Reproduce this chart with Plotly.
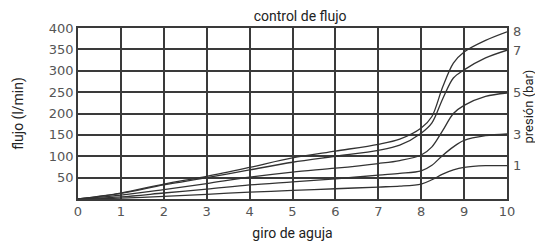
import plotly.graph_objects as go

giro = [0, 1, 2, 3, 4, 5, 6, 7, 7.5, 8, 8.25, 8.5, 8.75, 9, 9.5, 10]
flujo_8bar = [0, 14, 35, 53, 74, 96, 112, 128, 140, 166, 193, 262, 318, 344, 371, 391]
flujo_7bar = [0, 13, 33, 50, 68, 86, 100, 114, 126, 154, 178, 234, 283, 302, 330, 348]
flujo_5bar = [0, 9, 22, 36, 51, 63, 72, 83, 90, 103, 122, 160, 200, 219, 240, 248]
flujo_3bar = [0, 5, 14, 23, 33, 40, 47, 56, 60, 66, 79, 102, 122, 137, 148, 152]
flujo_1bar = [0, 2, 6, 11, 16, 20, 24, 28, 30, 35, 45, 58, 68, 74, 78, 78]
pressure_labels = ["8", "7", "5", "3", "1"]
x_ticks = list(range(0, 11))
y_ticks = [50, 100, 150, 200, 250, 300, 350, 400]

series = [flujo_8bar, flujo_7bar, flujo_5bar, flujo_3bar, flujo_1bar]

narrow = "Liberation Sans Narrow, Arial Narrow, Roboto, sans-serif"
tickfont = dict(family="DejaVu Sans, Verdana, sans-serif", size=13, color="#555555")
titlefont = dict(family=narrow, size=14, color="#222222")

fig = go.Figure()
for s, lab in zip(series, pressure_labels):
    fig.add_trace(go.Scatter(x=giro, y=s, mode="lines",
                             line=dict(color="#333333", width=1.3, shape="spline", smoothing=0.9),
                             showlegend=False, hoverinfo="skip", cliponaxis=False))
    fig.add_annotation(x=giro[-1], y=s[-1], text=lab, showarrow=False, xanchor="left", yanchor="middle",
                       xshift=4, font=tickfont)

fig.add_annotation(xref="paper", yref="paper", x=1.051, y=0.54, text="presión (bar)", textangle=-90,
                   showarrow=False, xanchor="center", yanchor="middle",
                   font=dict(family=narrow, size=13, color="#222222"))

grid = "#3a3a3a"
fig.update_layout(
    width=535, height=239,
    margin=dict(l=70, r=36, t=20, b=48),
    paper_bgcolor="white", plot_bgcolor="white",
    title=dict(text="control de flujo", x=0.546, xanchor="center", y=0.966, yanchor="middle",
               font=titlefont),
    xaxis=dict(range=[0, 10], tickvals=x_ticks, showgrid=True, gridcolor=grid, gridwidth=1.5,
               showline=True, linecolor=grid, linewidth=1.5, mirror=True, zeroline=False,
               ticks="", tickfont=tickfont, automargin=False,
               title=dict(text="giro de aguja", standoff=10, font=titlefont)),
    yaxis=dict(range=[0, 400], tickvals=y_ticks, showgrid=True, gridcolor=grid, gridwidth=1.5,
               showline=True, linecolor=grid, linewidth=1.5, mirror=True, zeroline=False,
               ticks="", tickfont=tickfont, automargin=False,
               title=dict(text="flujo (l/min)", standoff=22, font=titlefont)),
)

fig.write_html("out.html")
